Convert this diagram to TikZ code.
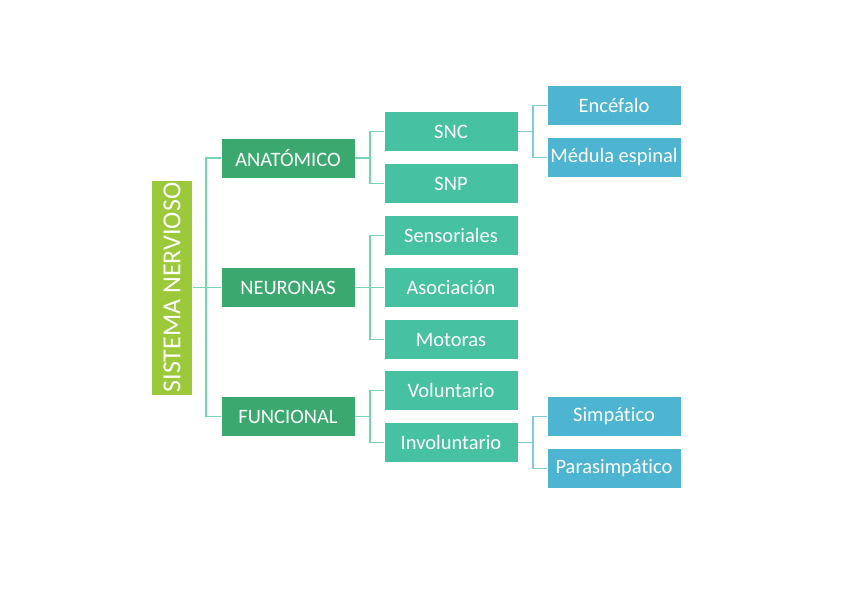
\documentclass[tikz,border=0pt]{standalone}
\usepackage{fontspec}
\setmainfont{Carlito}[Ligatures={NoCommon,NoRare,NoContextual}]
\definecolor{rootc}{HTML}{9BC93A}
\definecolor{lonec}{HTML}{3AA86F}
\definecolor{ltwoc}{HTML}{46C2A2}
\definecolor{lthreec}{HTML}{4DB4D2}
\definecolor{linkg}{HTML}{76D3B3}
\definecolor{linkb}{HTML}{7ECADF}
\begin{document}
\begin{tikzpicture}[x=1pt,y=-1pt,
  box/.style={draw=white,line width=0.6pt,text=white,inner sep=0pt,
    minimum width=134pt,minimum height=40pt,font=\fontsize{20.5}{24}\selectfont},
  lone/.style={box,fill=lonec},
  ltwo/.style={box,fill=ltwoc},
  lthree/.style={box,fill=lthreec},
  linkgreen/.style={draw=linkg,line width=1.6pt},
  linkblue/.style={draw=linkb,line width=1.6pt}]
\useasboundingbox (0,0) rectangle (848,599);
\node[draw=white,line width=0.6pt,fill=rootc,text=white,inner sep=0pt,
  minimum width=215pt,minimum height=41pt,rotate=90,
  font=\fontsize{26}{30}\selectfont] (root) at (172,287.5) {SISTEMA NERVIOSO};
\node[lone] (anat) at (288,158) {ANATÓMICO};
\node[lone] (neur) at (288,287.5) {NEURONAS};
\node[lone] (func) at (288,416.5) {FUNCIONAL};
\node[ltwo] (snc) at (451,131.5) {SNC};
\node[ltwo] (snp) at (451,183.5) {SNP};
\node[ltwo] (sens) at (451,235.5) {Sensoriales};
\node[ltwo] (asoc) at (451,287.5) {Asociación};
\node[ltwo] (moto) at (451,339.5) {Motoras};
\node[ltwo] (volu) at (451,390.5) {Voluntario};
\node[ltwo] (invo) at (451,442.5) {Involuntario};
\node[lthree] (ence) at (614,105.5) {Encéfalo};
\node[lthree] (medu) at (614,157.5) {Médula espinal};
\node[lthree] (simp) at (614,416.5) {Simpático};
\node[lthree] (para) at (614,468.5) {Parasimpático};
\coordinate (j0) at (206,287.5);
\coordinate (ja) at (370,158);
\coordinate (jn) at (370,287.5);
\coordinate (jf) at (370,416.5);
\coordinate (js) at (533,131.5);
\coordinate (ji) at (533,442.5);
\draw[linkgreen] (root.south) -- (j0);
\draw[linkgreen] (j0) |- (anat.west);
\draw[linkgreen] (j0) |- (func.west);
\draw[linkgreen] (j0) -- (neur.west);
\draw[linkgreen] (anat.east) -- (ja);
\draw[linkgreen] (ja) |- (snc.west);
\draw[linkgreen] (ja) |- (snp.west);
\draw[linkgreen] (neur.east) -- (jn);
\draw[linkgreen] (jn) |- (sens.west);
\draw[linkgreen] (jn) |- (moto.west);
\draw[linkgreen] (jn) -- (asoc.west);
\draw[linkgreen] (func.east) -- (jf);
\draw[linkgreen] (jf) |- (volu.west);
\draw[linkgreen] (jf) |- (invo.west);
\draw[linkblue] (snc.east) -- (js);
\draw[linkblue] (js) |- (ence.west);
\draw[linkblue] (js) |- (medu.west);
\draw[linkblue] (invo.east) -- (ji);
\draw[linkblue] (ji) |- (simp.west);
\draw[linkblue] (ji) |- (para.west);
\end{tikzpicture}
\end{document}
